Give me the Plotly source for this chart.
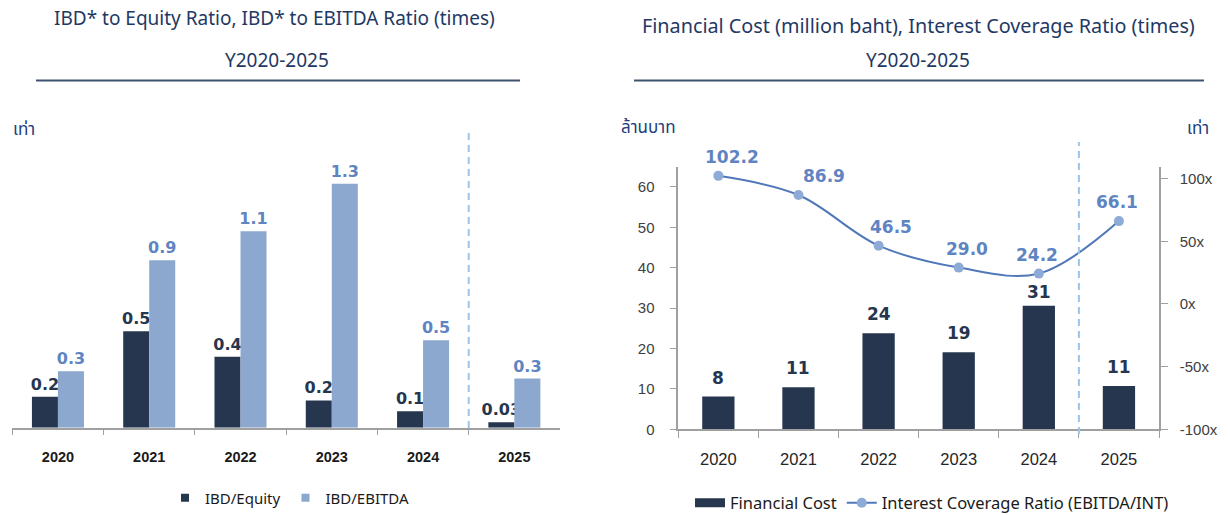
import plotly.graph_objects as go

# ---------------- data ----------------
years = ["2020", "2021", "2022", "2023", "2024", "2025"]

# left chart (times)
ibd_equity = [0.17, 0.53, 0.39, 0.15, 0.09, 0.03]
ibd_ebitda = [0.31, 0.92, 1.08, 1.34, 0.48, 0.27]
ibd_equity_labels = ["0.2", "0.5", "0.4", "0.2", "0.1", "0.03"]
ibd_ebitda_labels = ["0.3", "0.9", "1.1", "1.3", "0.5", "0.3"]

# right chart
fin_cost = [8.1, 10.4, 23.8, 19.1, 30.6, 10.7]          # million baht
fin_cost_labels = ["8", "11", "24", "19", "31", "11"]
icr = [102.2, 86.9, 46.5, 29.0, 24.2, 66.1]               # times
icr_labels = ["102.2", "86.9", "46.5", "29.0", "24.2", "66.1"]

left_yticks = [0, 10, 20, 30, 40, 50, 60]
right_yticks = [-100, -50, 0, 50, 100]
right_yticklabels = ["-100x", "-50x", "0x", "50x", "100x"]

# ---------------- styles ----------------
W, H = 1230, 515
NAVY = "#27364f"
LIGHT = "#8ca8cf"
LBL_BLUE = "#5f84c2"
LINE_BLUE = "#5078b8"
MARK_BLUE = "#8eaad6"
DASH_BLUE = "#9dc3e6"
AXIS_GRAY = "#a0a0a0"
TITLE_C = "#1f3864"
icr_label_xshift = [14, 26, 12, 8, -2, -2]
fc_label_yshift = [7, 7, 7, 7, 2, 7]


def px_x(x):
    return x / W


def px_y(y):
    return 1 - y / H


fig = go.Figure()

bw_left = 0.285
fig.add_trace(go.Bar(
    x=years, y=ibd_equity, width=bw_left, offset=-bw_left,
    marker=dict(color=NAVY, line=dict(width=0)),
    text=ibd_equity_labels, textposition="outside", constraintext="none",
    textfont=dict(family="DejaVu Sans", size=16, color=NAVY, weight="bold"),
    cliponaxis=False, showlegend=False, xaxis="x", yaxis="y", hoverinfo="skip"))
fig.add_trace(go.Bar(
    x=years, y=ibd_ebitda, width=bw_left, offset=0,
    marker=dict(color=LIGHT, line=dict(width=0)),
    text=ibd_ebitda_labels, textposition="outside", constraintext="none",
    textfont=dict(family="DejaVu Sans", size=16, color=LBL_BLUE, weight="bold"),
    cliponaxis=False, showlegend=False, xaxis="x", yaxis="y", hoverinfo="skip"))
# legend proxies (left)
fig.add_trace(go.Scatter(x=[None], y=[None], mode="markers", name="IBD/Equity",
                         marker=dict(symbol="square", size=8, color=NAVY),
                         legend="legend", xaxis="x", yaxis="y"))
fig.add_trace(go.Scatter(x=[None], y=[None], mode="markers", name="IBD/EBITDA",
                         marker=dict(symbol="square", size=8, color=LIGHT),
                         legend="legend", xaxis="x", yaxis="y"))

# right chart
fig.add_trace(go.Bar(
    x=years, y=fin_cost, width=0.403,
    marker=dict(color=NAVY, line=dict(width=0)),
    cliponaxis=False, showlegend=False, xaxis="x2", yaxis="y2", hoverinfo="skip"))
for i, (v, t) in enumerate(zip(fin_cost, fin_cost_labels)):
    fig.add_annotation(x=i, y=v, xref="x2", yref="y2", text=t, showarrow=False,
                       yshift=fc_label_yshift[i], yanchor="bottom",
                       font=dict(family="DejaVu Sans", size=17, color=NAVY, weight="bold"))
fig.add_trace(go.Scatter(x=[None], y=[None], mode="lines", name="Financial Cost",
                         line=dict(color=NAVY, width=9),
                         legend="legend2", xaxis="x2", yaxis="y2"))
fig.add_trace(go.Scatter(
    x=years, y=icr, mode="lines+markers", name="Interest Coverage Ratio (EBITDA/INT)",
    line=dict(color=LINE_BLUE, width=2, shape="spline", smoothing=1),
    marker=dict(color=MARK_BLUE, size=10, line=dict(width=0)),
    legend="legend2", xaxis="x2", yaxis="y3", cliponaxis=False))

for i, (v, t) in enumerate(zip(icr, icr_labels)):
    fig.add_annotation(x=i, y=v, xref="x2", yref="y3", text=t, showarrow=False,
                       xshift=icr_label_xshift[i], yshift=19, yanchor="middle",
                       font=dict(family="DejaVu Sans", size=17, color=LBL_BLUE, weight="bold"))

# titles and header lines
title_font = dict(family="Noto Sans", size=19, color=TITLE_C)
fig.add_annotation(x=px_x(274), y=px_y(18), xref="paper", yref="paper", showarrow=False,
                   text="IBD* to Equity Ratio, IBD* to EBITDA Ratio (times)", font=title_font,
                   xanchor="center", yanchor="middle")
fig.add_annotation(x=px_x(277), y=px_y(60), xref="paper", yref="paper", showarrow=False,
                   text="Y2020-2025", font=title_font, xanchor="center", yanchor="middle")
fig.add_annotation(x=px_x(918), y=px_y(26), xref="paper", yref="paper", showarrow=False,
                   text="Financial Cost (million baht), Interest Coverage Ratio (times)",
                   font=dict(family="Noto Sans", size=19.8, color=TITLE_C),
                   xanchor="center", yanchor="middle")
fig.add_annotation(x=px_x(918), y=px_y(60), xref="paper", yref="paper", showarrow=False,
                   text="Y2020-2025", font=title_font, xanchor="center", yanchor="middle")
fig.add_shape(type="line", xref="paper", yref="paper", x0=px_x(36), x1=px_x(520),
              y0=px_y(80.5), y1=px_y(80.5), line=dict(color="#3e5270", width=2))
fig.add_shape(type="line", xref="paper", yref="paper", x0=px_x(634), x1=px_x(1204),
              y0=px_y(80.5), y1=px_y(80.5), line=dict(color="#3e5270", width=2))

unit_font = dict(family="Noto Sans Thai, Tahoma, sans-serif", size=17, color="#213c7a")
fig.add_annotation(x=px_x(11), y=px_y(130), xref="paper", yref="paper", showarrow=False,
                   text="เท่า", font=unit_font, xanchor="left", yanchor="middle")
fig.add_annotation(x=px_x(619), y=px_y(128), xref="paper", yref="paper", showarrow=False,
                   text="ล้านบาท", font=unit_font, xanchor="left", yanchor="middle")
fig.add_annotation(x=px_x(1185), y=px_y(128.5), xref="paper", yref="paper", showarrow=False,
                   text="เท่า", font=unit_font, xanchor="left", yanchor="middle")

# dashed separators (between 2024 and 2025)
fig.add_shape(type="line", xref="x", yref="paper", x0=4.5, x1=4.5,
              y0=px_y(428), y1=px_y(133), line=dict(color=DASH_BLUE, width=2, dash="7px,5px"))
fig.add_shape(type="line", xref="x2", yref="paper", x0=4.5, x1=4.5,
              y0=px_y(434), y1=px_y(142), line=dict(color=DASH_BLUE, width=2, dash="7px,5px"))

fig.update_layout(
    width=W, height=H, autosize=False,
    margin=dict(l=0, r=0, t=0, b=0, autoexpand=False),
    paper_bgcolor="white", plot_bgcolor="rgba(0,0,0,0)",
    barmode="overlay",
    xaxis=dict(domain=[px_x(12.3), px_x(560)], anchor="y", type="category",
               range=[-0.5, 5.5],
               showline=True, linecolor=AXIS_GRAY, linewidth=1.5,
               ticks="outside", tickson="boundaries", ticklen=6, tickcolor=AXIS_GRAY,
               tickfont=dict(family="Liberation Sans", size=14.5, color="#1a1a1a", weight="bold"),
               ticklabelstandoff=15, showgrid=False, zeroline=False, automargin=False),
    yaxis=dict(domain=[px_y(427.7), px_y(133)], anchor="x", range=[0, 294.7 / 182],
               visible=False, showgrid=False, zeroline=False),
    xaxis2=dict(domain=[px_x(678.3), px_x(1159)], anchor="y2", type="category",
                range=[-0.5, 5.5],
                showline=True, linecolor=AXIS_GRAY, linewidth=1.5,
                ticks="outside", tickson="boundaries", ticklen=7, tickcolor=AXIS_GRAY,
                tickfont=dict(family="Liberation Sans", size=16.5, color="#262626"),
                ticklabelstandoff=14, showgrid=False, zeroline=False, automargin=False),
    yaxis2=dict(domain=[px_y(429.3), px_y(166.7)], anchor="x2", range=[0, 65],
                tickvals=left_yticks, showline=True, linecolor=AXIS_GRAY, linewidth=1.5,
                ticks="outside", ticklen=7, tickcolor=AXIS_GRAY,
                tickfont=dict(family="Liberation Sans", size=15, color="#404040"),
                ticklabelstandoff=12, showgrid=False, zeroline=False, automargin=False),
    yaxis3=dict(overlaying="y2", side="right", anchor="x2", range=[-100, 109.5],
                tickvals=right_yticks, ticktext=right_yticklabels,
                showline=True, linecolor=AXIS_GRAY, linewidth=1.5,
                ticks="outside", ticklen=7, tickcolor=AXIS_GRAY,
                tickfont=dict(family="Liberation Sans", size=15, color="#404040"),
                ticklabelstandoff=9, showgrid=False, zeroline=False, automargin=False),
    legend=dict(orientation="h", x=px_x(290), xanchor="center", y=px_y(498), yanchor="middle",
                font=dict(family="Noto Sans", size=15, color="#1a1a1a"),
                bgcolor="rgba(0,0,0,0)", itemwidth=30),
    legend2=dict(orientation="h", x=px_x(932), xanchor="center", y=px_y(503), yanchor="middle",
                 font=dict(family="Noto Sans", size=16.5, color="#1a1a1a"),
                 bgcolor="rgba(0,0,0,0)", itemwidth=30),
)

fig.write_html("out.html", config={"displayModeBar": False},
               post_script="document.documentElement.style.margin='0px';"
                           "document.body.style.margin='0px';"
                           "document.body.style.overflow='hidden';")
